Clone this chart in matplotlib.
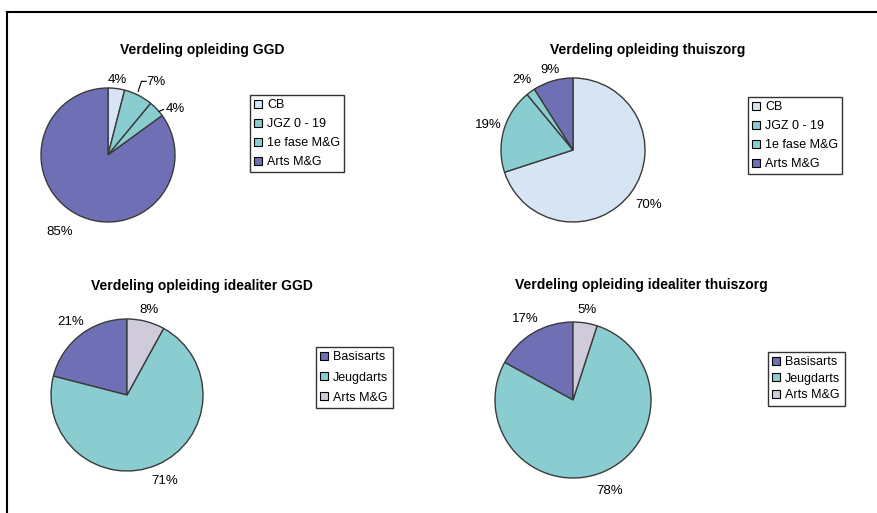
import numpy as np
import matplotlib
matplotlib.use("Agg")
import matplotlib.pyplot as plt
from matplotlib.lines import Line2D
from matplotlib.patches import Patch

plt.rcParams['font.family'] = ['Liberation Sans', 'DejaVu Sans']

# data
titles = ["Verdeling opleiding GGD", "Verdeling opleiding thuiszorg",
          "Verdeling opleiding idealiter GGD", "Verdeling opleiding idealiter thuiszorg"]
labels_now = ["CB", "JGZ 0 - 19", "1e fase M&G", "Arts M&G"]
ggd_now = [4, 7, 4, 85]
thuis_now = [70, 19, 2, 9]
labels_ideal = ["Basisarts", "Jeugdarts", "Arts M&G"]
ggd_ideal = [21, 71, 8]
thuis_ideal = [17, 78, 5]

# colours
light_blue = "#d6e4f3"
teal = "#8acdd1"
slate = "#6f6fb6"
grey = "#cfcbdb"
colors_now = [light_blue, teal, teal, slate]
colors_ideal = [slate, teal, grey]

W, H = 877, 513
fig = plt.figure(figsize=(W / 100, H / 100), dpi=100)
fig.patch.set_facecolor("white")

# frame lines (top and left)
fig.add_artist(Line2D([7 / W, 1], [1 - 12 / H, 1 - 12 / H], color="black", lw=1.5))
fig.add_artist(Line2D([7 / W, 7 / W], [0, 1 - 12 / H], color="black", lw=1.5))


def pie_axes(cx, cy, r):
    ax = fig.add_axes([(cx - r) / W, (H - cy - r) / H, 2 * r / W, 2 * r / H])
    return ax


def draw_pie(ax, values, colors, counterclock, dists, shifts=None):
    ax.pie(values, colors=colors, startangle=90, counterclock=counterclock,
           wedgeprops=dict(edgecolor="#3a3a3a", linewidth=1.0))
    ax.set_xlim(-1, 1)
    ax.set_ylim(-1, 1)
    if shifts is None:
        shifts = [0] * len(values)
    total = float(sum(values))
    cum = 0.0
    for v, d, s in zip(values, dists, shifts):
        frac = (cum + v / 2) / total
        ang = np.deg2rad(90 + (360 * frac if counterclock else -360 * frac) + s)
        ax.text(d * np.cos(ang), d * np.sin(ang), f"{v}%", ha="center", va="center",
                fontsize=9.5, clip_on=False)
        cum += v


def legend(labels, colors, x, y, spacing):
    handles = [Patch(facecolor=c, edgecolor="black", linewidth=0.8) for c in colors]
    leg = fig.legend(handles, labels, loc="upper left", bbox_to_anchor=(x / W, 1 - y / H),
                     fontsize=9, frameon=True, fancybox=False, handlelength=0.6,
                     handleheight=0.6, handletextpad=0.4, borderpad=0.35,
                     labelspacing=spacing, borderaxespad=0)
    leg.get_frame().set_edgecolor("black")
    leg.get_frame().set_linewidth(1.0)


# titles
fig.text(202 / W, 1 - 50 / H, titles[0], ha="center", va="center", fontsize=10, fontweight="bold")
fig.text(648 / W, 1 - 50 / H, titles[1], ha="center", va="center", fontsize=10, fontweight="bold")
fig.text(202 / W, 1 - 286 / H, titles[2], ha="center", va="center", fontsize=10, fontweight="bold")
fig.text(641 / W, 1 - 285 / H, titles[3], ha="center", va="center", fontsize=10, fontweight="bold")

# chart 1
ax1 = pie_axes(108, 155, 67)
draw_pie(ax1, ggd_now, colors_now, False, [1.13, 1.3, 1.22, 1.35], [0, -6, -9, -5])
ax1.plot([0.45, 0.5, 0.57], [0.95, 1.1, 1.1], color="black", lw=0.8, clip_on=False)
ax1.plot([0.76, 0.83], [0.65, 0.68], color="black", lw=0.8, clip_on=False)

# chart 2
ax2 = pie_axes(573, 150, 72)
draw_pie(ax2, thuis_now, colors_now, False, [1.3, 1.22, 1.2, 1.16])

# chart 3
ax3 = pie_axes(127, 395, 76)
draw_pie(ax3, ggd_ideal, colors_ideal, True, [1.21, 1.24, 1.15])

# chart 4
ax4 = pie_axes(573, 400, 78)
draw_pie(ax4, thuis_ideal, colors_ideal, True, [1.2, 1.26, 1.17])

# legends
legend(labels_now, colors_now, 250, 95, 0.55)
legend(labels_now, colors_now, 748, 97, 0.55)
legend(labels_ideal, colors_ideal, 316, 347, 0.65)
legend(labels_ideal, colors_ideal, 768, 352, 0.35)

fig.savefig("out.png", dpi=100)
